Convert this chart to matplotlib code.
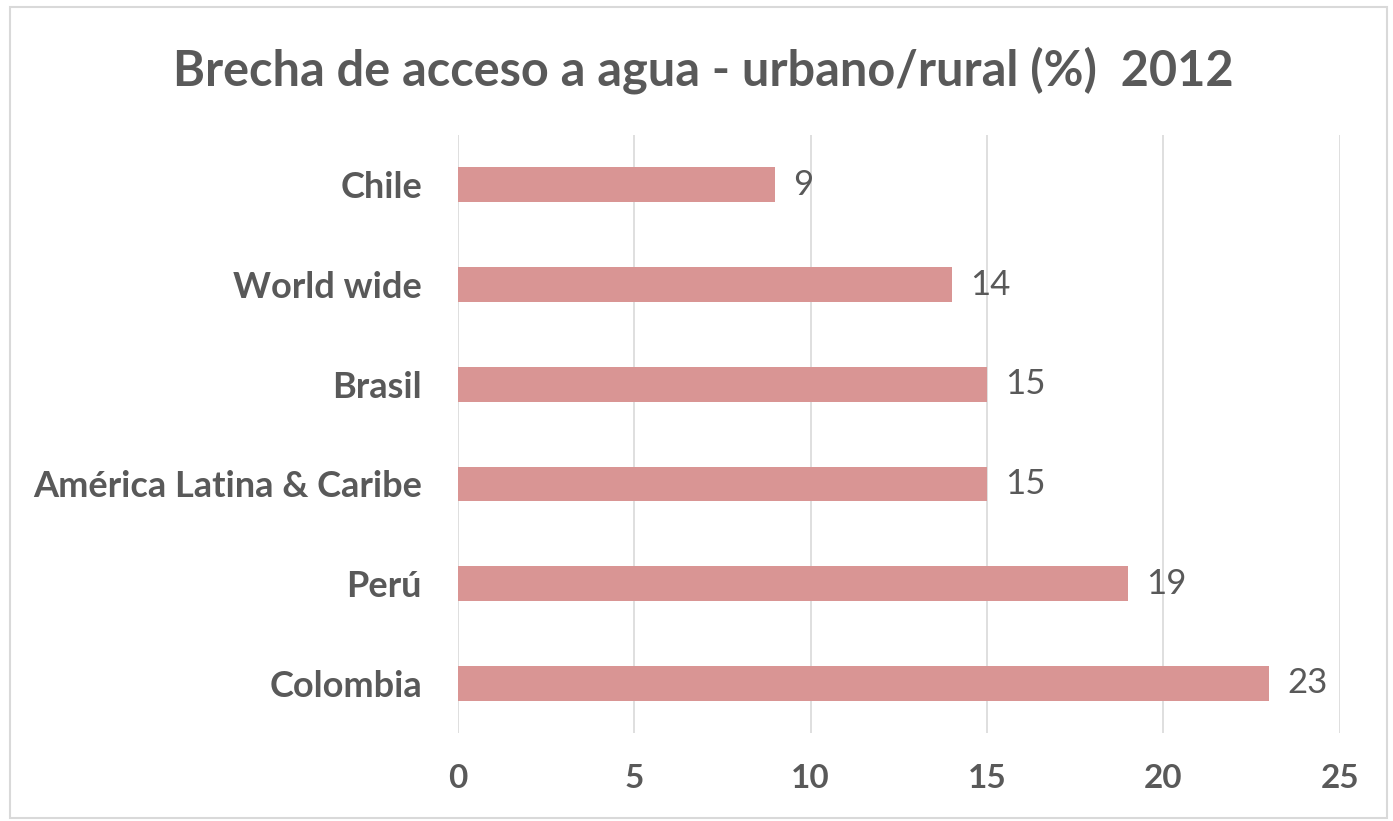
import matplotlib.pyplot as plt
from matplotlib.patches import Rectangle

paises = ["Colombia", "Perú", "América Latina & Caribe", "Brasil", "World wide", "Chile"]
brecha = [23, 19, 15, 15, 14, 9]
xticks = [0, 5, 10, 15, 20, 25]

plt.rcParams['font.family'] = ['Lato', 'DejaVu Sans']

fig = plt.figure(figsize=(13.93, 8.21), dpi=100)
ax = fig.add_axes([0.3288, 0.107, 0.633, 0.7285])

barras = ax.barh(range(len(paises)), brecha, height=0.35, color="#D99594")
ax.bar_label(barras, labels=[str(v) for v in brecha], padding=13,
             fontsize=25, color="#595959")

ax.set_xlim(0, 25)
ax.set_ylim(-0.5, len(paises) - 0.5)
ax.set_xticks(xticks)
ax.set_yticks(range(len(paises)))
ax.set_yticklabels(paises)
ax.tick_params(axis='x', length=0, pad=22, labelsize=24, labelcolor="#595959")
ax.tick_params(axis='y', length=0, pad=26, labelsize=26, labelcolor="#595959")
for lab in ax.get_xticklabels() + ax.get_yticklabels():
    lab.set_fontweight('bold')

ax.grid(axis='x', color="#D9D9D9", linewidth=1.2)
ax.set_axisbelow(True)
for s in ax.spines.values():
    s.set_visible(False)

fig.text(0.505, 0.915, "Brecha de acceso a agua - urbano/rural (%)  2012",
         ha='center', va='center', fontsize=35, fontweight='bold', color="#595959")

fig.patches.append(Rectangle((0.007, 0.004), 0.989, 0.988, transform=fig.transFigure,
                             fill=False, edgecolor="#D9D9D9", linewidth=1.5))

fig.savefig("out.png", dpi=100)
